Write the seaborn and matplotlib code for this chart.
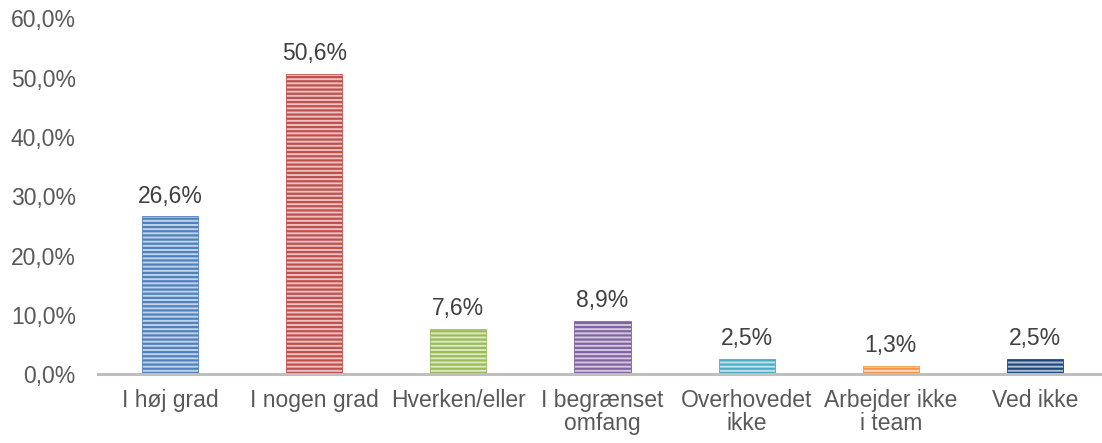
import matplotlib
matplotlib.use("Agg")
import matplotlib.pyplot as plt
import seaborn as sns
import pandas as pd
import numpy as np
from matplotlib.colors import to_rgb

categories = ["I høj grad", "I nogen grad", "Hverken/eller", "I begrænset\nomfang",
              "Overhovedet\nikke", "Arbejder ikke\ni team", "Ved ikke"]
values = [26.6, 50.6, 7.6, 8.9, 2.5, 1.3, 2.5]
value_labels = ["26,6%", "50,6%", "7,6%", "8,9%", "2,5%", "1,3%", "2,5%"]
colors = ["#4F81BD", "#C0504D", "#9BBB59", "#8064A2", "#4BACC6", "#F79646", "#1F497D"]
yticks = [0, 10, 20, 30, 40, 50, 60]
ytick_labels = ["0,0%", "10,0%", "20,0%", "30,0%", "40,0%", "50,0%", "60,0%"]

sns.set_theme(style="white")
plt.rcParams['font.family'] = ['Liberation Sans', 'DejaVu Sans']
plt.rcParams['hatch.linewidth'] = 1.6

df = pd.DataFrame({"cat": categories, "val": values})

fig = plt.figure(figsize=(11.02, 4.43), dpi=100)
ax = fig.add_axes([98/1102, 69/443, 1009/1102, (374-18.5)/443])

sns.barplot(data=df, x="cat", y="val", hue="cat", palette=colors, legend=False,
            width=0.39, ax=ax, saturation=1)

def lighten(c, f):
    r, g, b = to_rgb(c)
    return (r + (1-r)*f, g + (1-g)*f, b + (1-b)*f)

for patch, c in zip(ax.patches, colors):
    patch.set_facecolor(lighten(c, 0.65))
    patch.set_edgecolor(c)
    patch.set_linewidth(0.6)
    patch.set_hatch('----')

for i, (v, lab) in enumerate(zip(values, value_labels)):
    ax.annotate(lab, (i, v), xytext=(0, 10), textcoords="offset points",
                ha="center", va="baseline", fontsize=16.5, color="#404040")

ax.set_ylim(0, 60)
ax.set_xlim(-0.5, 6.5)
ax.set_yticks(yticks)
ax.set_yticklabels(ytick_labels)
ax.set_xlabel("")
ax.set_ylabel("")
ax.tick_params(axis="y", length=0, pad=16, labelsize=16.5, labelcolor="#595959")
ax.tick_params(axis="x", length=0, pad=10.5, labelsize=16.5, labelcolor="#595959")
for t in ax.get_xticklabels():
    t.set_linespacing(1.05)

for s in ["top", "right", "left"]:
    ax.spines[s].set_visible(False)
ax.spines["bottom"].set_color("#BFBFBF")
ax.spines["bottom"].set_linewidth(2.2)
ax.grid(False)

fig.savefig("out.png", dpi=100)
